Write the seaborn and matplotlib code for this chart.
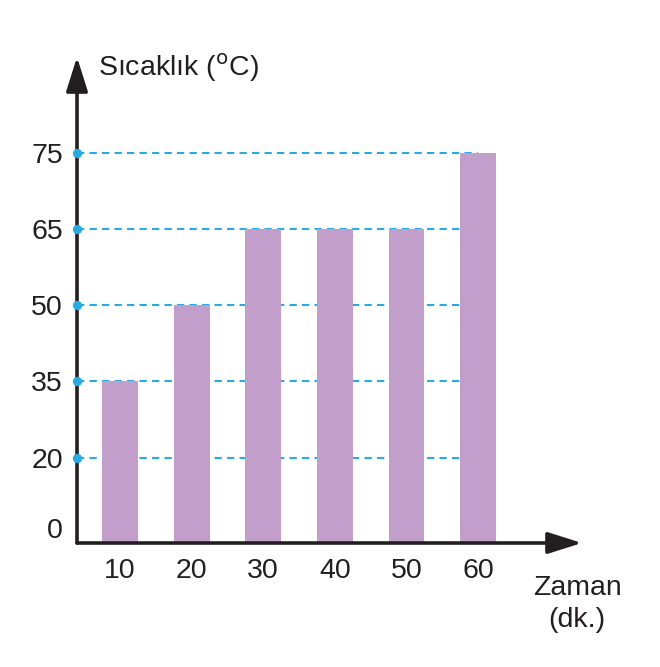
import numpy as np
import pandas as pd
import matplotlib
matplotlib.use("Agg")
import matplotlib.pyplot as plt
import matplotlib.transforms as mtransforms
import seaborn as sns

# ---- data ----
times = ["10", "20", "30", "40", "50", "60"]
temps = [35, 50, 65, 65, 65, 75]
ytick_values = [0, 20, 35, 50, 65, 75]
ytick_labels = ["0", "20", "35", "50", "65", "75"]
y_label = "Sıcaklık ($^{\\mathrm{o}}$C)"
x_label = "Zaman\n(dk.)"

# drawn (non-linear) spacing of the y scale, as in the reference
scale_vals = np.array([-100, 0, 20, 35, 50, 65, 75, 100], dtype=float)
scale_pos = np.array([-425, 0, 85, 162, 238, 314, 390, 580], dtype=float)

def fwd(v):
    return np.interp(v, scale_vals, scale_pos)

def inv(p):
    return np.interp(p, scale_pos, scale_vals)

sns.set_theme(style="white")
plt.rcParams["font.family"] = ["Liberation Sans", "DejaVu Sans"]

df = pd.DataFrame({"Zaman": times, "Sicaklik": temps})

fig = plt.figure(figsize=(6.6, 6.67), dpi=100)
W, H = 660, 667
ax = fig.add_axes([77 / W, (H - 543) / H, (582 - 77) / W, (543 - 57) / H])

bar_color = "#c29fcb"
line_color = "#29abe2"
axis_color = "#231f20"
fs = 20.5

ax.set_yscale("function", functions=(fwd, inv))

sns.barplot(data=df, x="Zaman", y="Sicaklik", order=times, color=bar_color,
            width=0.5, saturation=1, ax=ax, zorder=2, linewidth=0, edgecolor="none")

xmin, xmax = -0.6, 6.45
ax.set_xlim(xmin, xmax)
ax.set_ylim(0, inv(486))

grid_vals = [v for v in ytick_values if v > 0]
ax.hlines(grid_vals, xmin, len(times) - 1, colors=line_color, linestyles=(0, (3.5, 2.5)),
          linewidth=1.5, zorder=1)

for s in ax.spines.values():
    s.set_visible(False)

# axis arrows
arrow_kw = dict(arrowstyle="-|>,head_length=0.95,head_width=0.3", color=axis_color,
                lw=2.6, shrinkA=0, shrinkB=0, mutation_scale=22)
ax.annotate("", xy=(1.0, 0), xytext=(0, 0), xycoords="axes fraction",
            textcoords="axes fraction", arrowprops=arrow_kw, annotation_clip=False, zorder=6)
ax.annotate("", xy=(0, 1.0), xytext=(0, 0), xycoords="axes fraction",
            textcoords="axes fraction", arrowprops=arrow_kw, annotation_clip=False, zorder=6)

ax.scatter([xmin] * len(grid_vals), grid_vals, s=45, color=line_color, zorder=8,
           clip_on=False, linewidths=0)

ax.set_yticks(ytick_values)
ax.set_yticklabels(ytick_labels)
ax.tick_params(axis="y", length=0, pad=10, labelsize=fs, labelcolor=axis_color)
ax.tick_params(axis="x", length=0, pad=11, labelsize=fs, labelcolor=axis_color)
ax.set_xlabel("")
ax.set_ylabel("")
ax.minorticks_off()

# the "0" label sits slightly above the axis line in the reference
fig.canvas.draw()
lab0 = ax.get_yticklabels()[0]
lab0.set_transform(lab0.get_transform() + mtransforms.ScaledTranslation(0, 15 / 100, fig.dpi_scale_trans))

fig.text(98 / W, 1 - 68 / H, y_label, fontsize=fs, color=axis_color, ha="left", va="center")
fig.text(577 / W, 1 - 604 / H, x_label, fontsize=fs, color=axis_color, ha="center",
         va="center", linespacing=1.3)

fig.savefig("out.png", dpi=100)
